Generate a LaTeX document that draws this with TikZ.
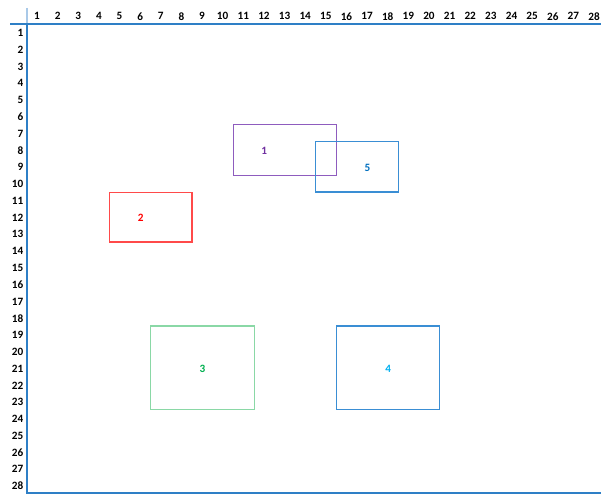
\documentclass[tikz,border=0pt]{standalone}
\usepackage{fontspec}
\setmainfont{Carlito}
\definecolor{axisblue}{HTML}{2E7FC6}
\definecolor{axislight}{HTML}{A9C9E8}
\definecolor{boxpurple}{HTML}{8E5CBE}
\definecolor{txtpurple}{HTML}{7030A0}
\definecolor{boxblue}{HTML}{3A8ED4}
\definecolor{txtblue}{HTML}{0070C0}
\definecolor{boxred}{HTML}{FF4A4A}
\definecolor{txtred}{HTML}{FF0000}
\definecolor{boxgreen}{HTML}{8AD8A6}
\definecolor{txtgreen}{HTML}{00B050}
\definecolor{txtcyan}{HTML}{00B0F0}
\begin{document}
\begin{tikzpicture}[x=1bp,y=-1bp,
  lab/.style={font=\fontsize{11.2bp}{13bp}\selectfont\bfseries, inner sep=0pt},
  collab/.style={lab},
  rowlab/.style={lab, anchor=east},
  axis/.style={draw=axisblue, line width=2bp},
  shape box/.style={draw=#1, line width=1.1bp, inner sep=0pt},
  boxlab/.style={lab, text=#1}]
\useasboundingbox[fill=white] (0,0) rectangle (601,494);
% axes
\coordinate (vtop) at (26.7,8);
\coordinate (vmid) at (26.7,24);
\coordinate (vbot) at (26.7,493.5);
\coordinate (hleft) at (10,24);
\coordinate (hright) at (601,24);
\coordinate (bleft) at (26.7,492.5);
\coordinate (bright) at (601,492.5);
\draw[draw=axislight, line width=2bp] (vtop) -- (vmid);
\draw[axis] (vmid) -- (vbot);
\draw[axis] (hleft) -- (hright);
\draw[axis] (bleft) -- (bright);
% column and row labels
\foreach \k in {1,...,28} {
  \node[collab] (c\k) at ({37+(\k-1)*20.63},16.3) {\k};
  \node[rowlab] (r\k) at (23.5,{33+(\k-1)*16.78}) {\k};
}
% boxes
\draw[shape box=boxpurple] (233.3,124.8) rectangle (336.3,175.3);
\draw[shape box=boxblue] (315.7,141.7) rectangle (398.6,192);
\draw[shape box=boxred] (109.3,192.3) rectangle (192,242);
\draw[shape box=boxgreen] (150.7,326) rectangle (254.2,409.6);
\draw[shape box=boxblue] (336.7,326) rectangle (439.6,409.6);
% box labels
\node[boxlab=txtpurple] (l1) at (264.2,151) {1};
\node[boxlab=txtblue] (l5) at (367.5,167.6) {5};
\node[boxlab=txtred] (l2) at (140.6,217.7) {2};
\node[boxlab=txtgreen] (l3) at (202.5,368.5) {3};
\node[boxlab=txtcyan] (l4) at (388.3,368.5) {4};
\end{tikzpicture}
\end{document}
